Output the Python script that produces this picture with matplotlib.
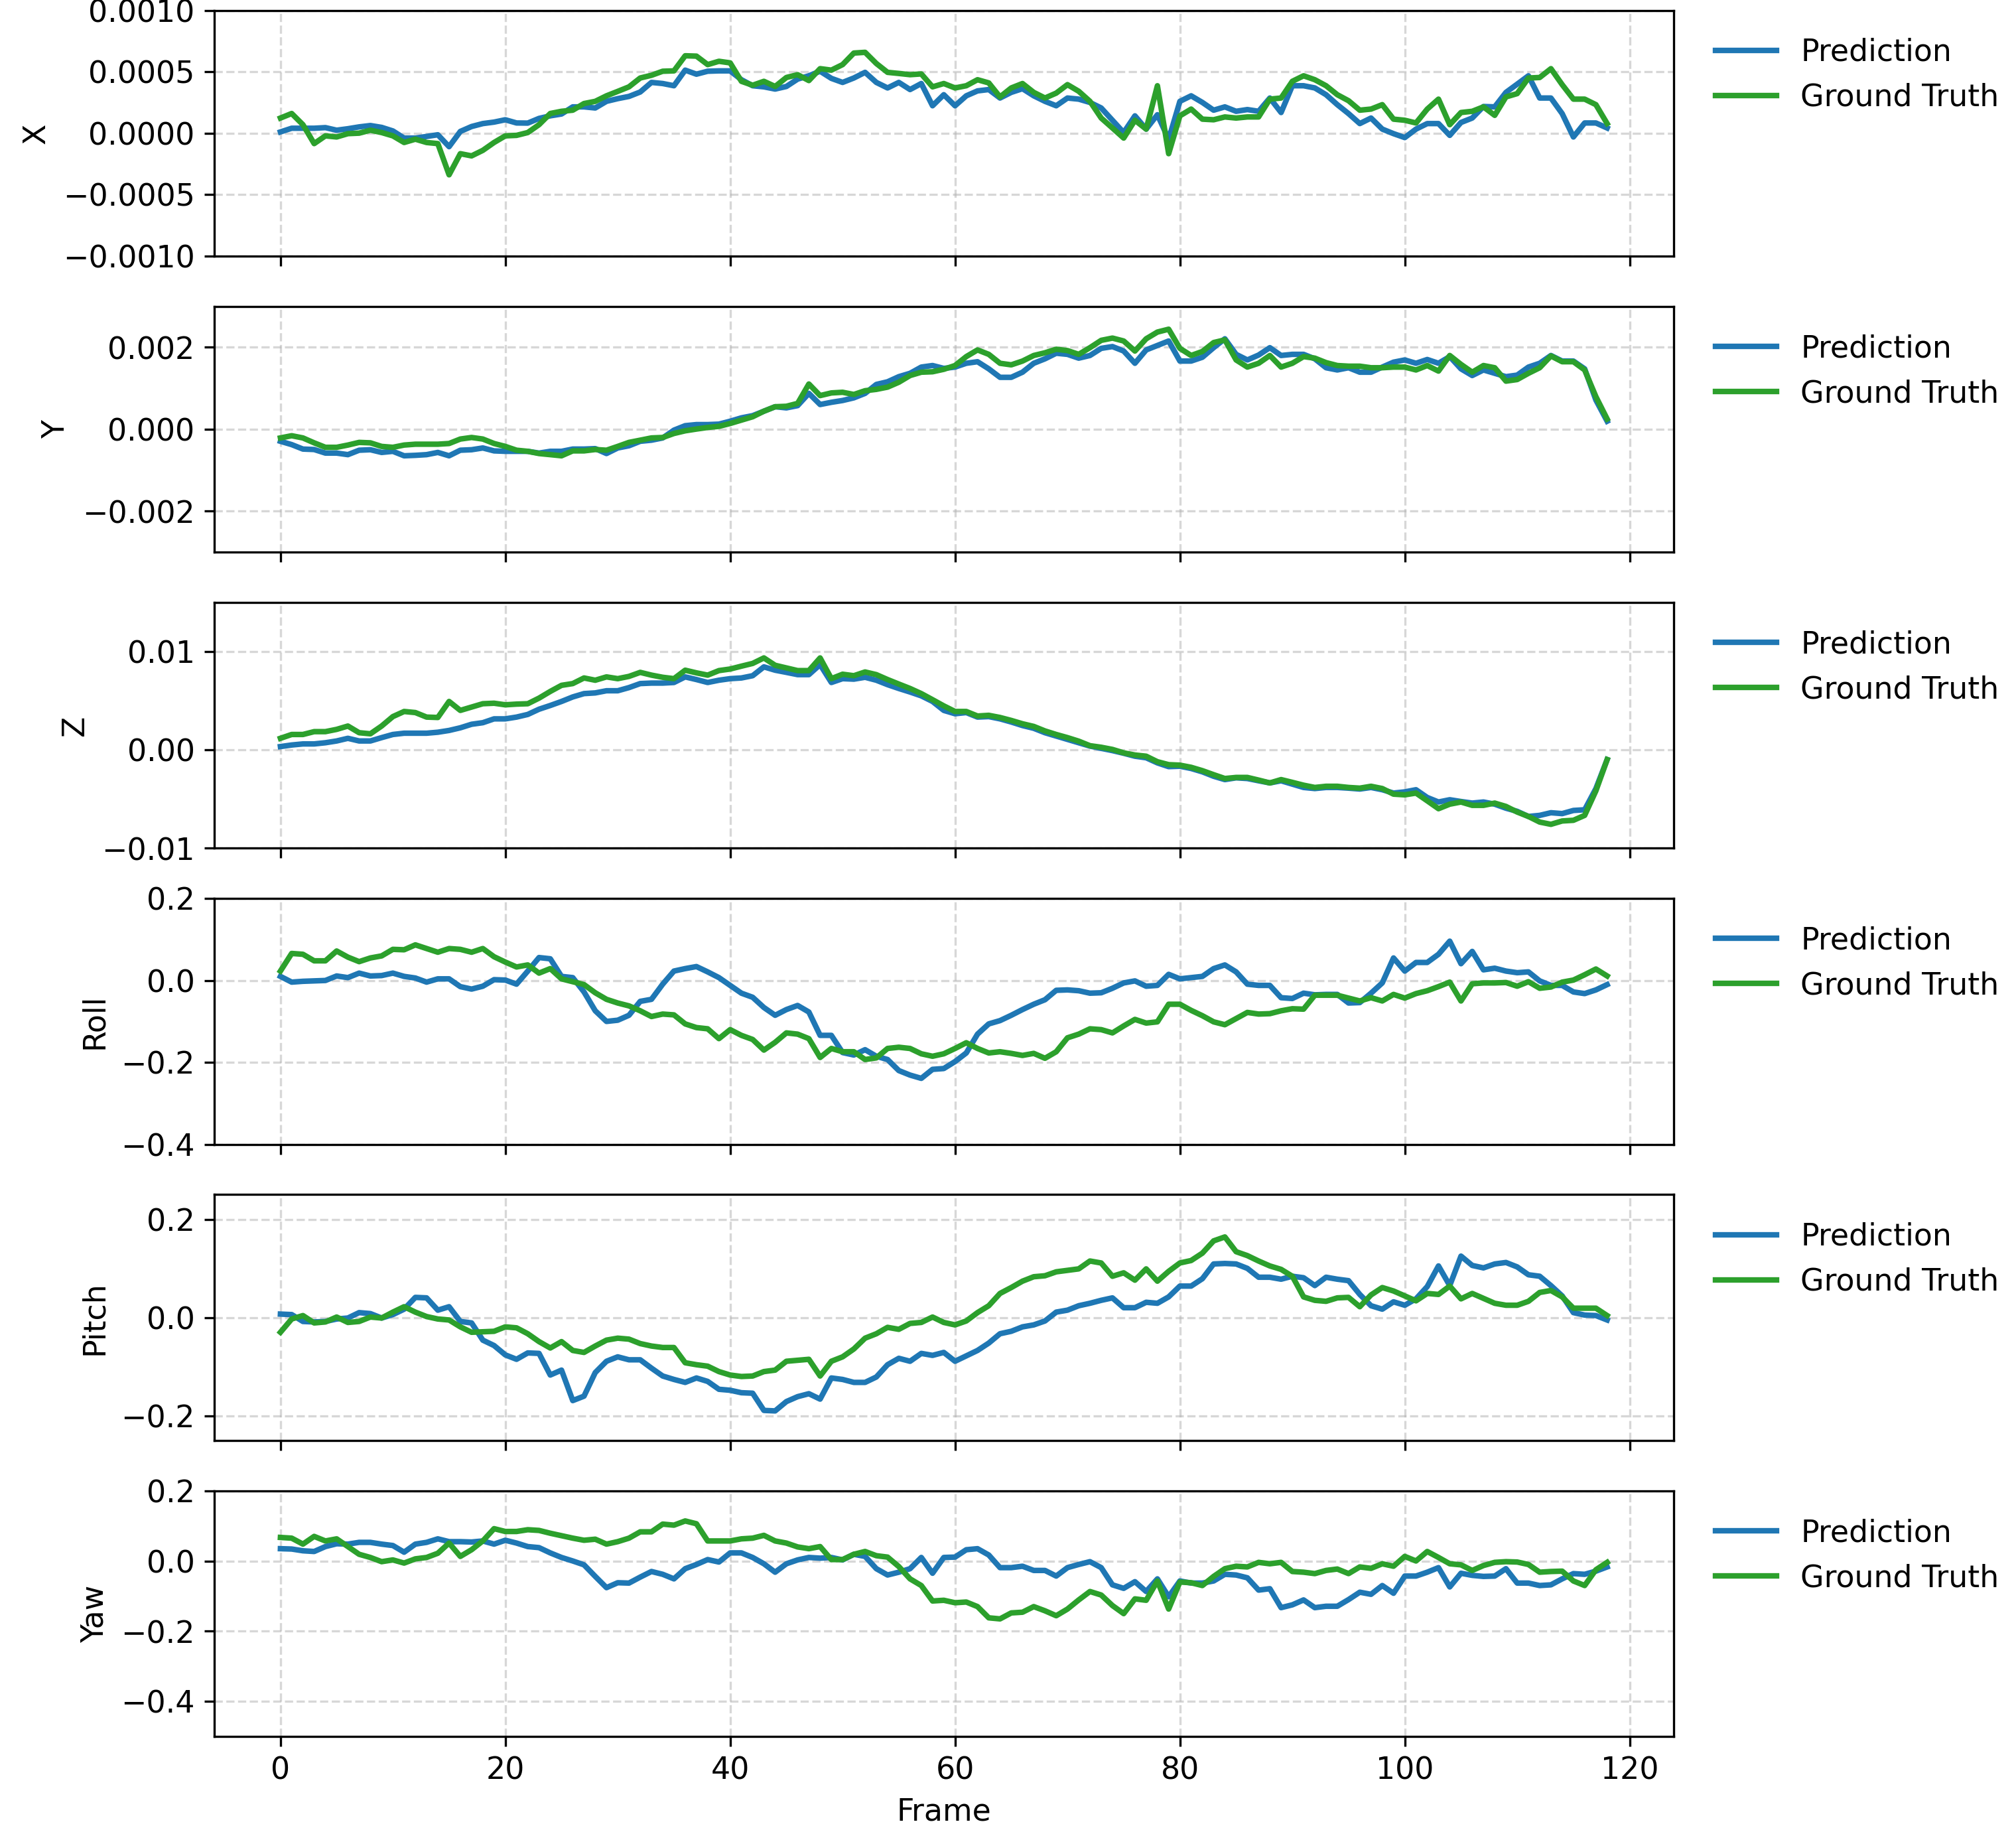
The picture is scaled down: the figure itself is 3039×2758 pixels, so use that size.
import matplotlib
matplotlib.use("Agg")
import matplotlib.pyplot as plt
import numpy as np

plt.rcParams["font.size"] = 11

frames = np.arange(119)

# X and Y in units of 1e-4, Z in units of 1e-3
x_pred = [0.1, 0.4, 0.4, 0.4, 0.45, 0.24, 0.36, 0.51, 0.62, 0.47,
          0.18, -0.4, -0.4, -0.27, -0.13, -1.1, 0.14, 0.54, 0.78, 0.9,
          1.09, 0.83, 0.82, 1.2, 1.41, 1.56, 2.14, 2.14, 2.05, 2.59,
          2.81, 2.99, 3.35, 4.13, 4.04, 3.86, 5.13, 4.8, 5.04, 5.07,
          5.07, 4.35, 3.86, 3.77, 3.59, 3.8, 4.4, 4.67, 5.04, 4.46,
          4.13, 4.49, 4.95, 4.13, 3.68, 4.13, 3.55, 4.04, 2.23, 3.13,
          2.23, 3.04, 3.44, 3.55, 2.86, 3.32, 3.62, 3.04, 2.59, 2.23,
          2.86, 2.77, 2.5, 2.05, 1.05, 0.05, 1.41, 0.33, 1.5, -0.5,
          2.59, 3.04, 2.5, 1.87, 2.14, 1.78, 1.92, 1.78, 2.86, 1.68,
          3.86, 3.86, 3.68, 3.13, 2.32, 1.59, 0.78, 1.23, 0.33, -0.04,
          -0.36, 0.33, 0.78, 0.78, -0.18, 0.87, 1.23, 2.17, 2.14, 3.32,
          3.99, 4.67, 2.86, 2.86, 1.59, -0.31, 0.83, 0.83, 0.42]
x_gt = [1.23, 1.6, 0.69, -0.85, -0.22, -0.31, -0.04, 0.0, 0.24, 0.05,
        -0.22, -0.76, -0.49, -0.76, -0.85, -3.39, -1.67, -1.85, -1.4, -0.76,
        -0.22, -0.18, 0.05, 0.69, 1.6, 1.78, 1.87, 2.41, 2.59, 3.04,
        3.4, 3.77, 4.49, 4.71, 5.04, 5.07, 6.3, 6.27, 5.58, 5.85,
        5.72, 4.22, 3.9, 4.22, 3.8, 4.53, 4.76, 4.28, 5.25, 5.13,
        5.58, 6.52, 6.58, 5.67, 4.95, 4.86, 4.76, 4.82, 3.77, 4.04,
        3.68, 3.86, 4.35, 4.09, 2.95, 3.68, 4.04, 3.32, 2.86, 3.26,
        3.95, 3.41, 2.59, 1.23, 0.42, -0.4, 1.05, 0.33, 3.86, -1.67,
        1.41, 1.96, 1.14, 1.09, 1.32, 1.23, 1.32, 1.32, 2.77, 2.86,
        4.22, 4.67, 4.35, 3.86, 3.13, 2.64, 1.87, 1.96, 2.32, 1.14,
        1.05, 0.83, 1.96, 2.77, 0.69, 1.68, 1.78, 2.14, 1.45, 2.95,
        3.22, 4.49, 4.53, 5.25, 3.95, 2.77, 2.77, 2.32, 0.78]

y_pred = [-2.94, -3.75, -4.84, -4.95, -5.82, -5.82, -6.2, -5.12, -5.0, -5.66,
          -5.39, -6.48, -6.37, -6.2, -5.66, -6.48, -5.12, -5.0, -4.57, -5.28,
          -5.39, -5.39, -5.39, -5.82, -5.39, -5.39, -4.84, -4.84, -4.73, -5.93,
          -4.57, -4.03, -2.94, -2.67, -2.12, -0.22, 0.87, 1.14, 1.14, 1.25,
          1.96, 2.78, 3.32, 4.41, 5.5, 5.22, 5.77, 8.76, 6.04, 6.58,
          7.02, 7.67, 8.76, 10.94, 11.59, 12.84, 13.66, 15.18, 15.56, 14.86,
          15.18, 16.11, 16.49, 14.75, 12.68, 12.68, 13.93, 16.11, 17.2, 18.56,
          18.29, 17.36, 18.01, 19.75, 20.19, 19.1, 16.11, 19.37, 20.46, 21.55,
          16.65, 16.65, 17.58, 19.92, 22.09, 18.29, 16.92, 18.12, 19.92, 18.01,
          18.29, 18.29, 17.2, 15.02, 14.48, 15.02, 13.93, 13.93, 15.18, 16.38,
          16.92, 16.11, 17.03, 16.11, 17.74, 14.75, 13.12, 14.48, 13.66, 12.84,
          13.22, 15.18, 16.11, 18.01, 16.65, 16.65, 14.75, 7.13, 1.96]
y_gt = [-2.12, -1.58, -2.12, -3.32, -4.41, -4.41, -3.86, -3.21, -3.32, -4.19,
        -4.41, -3.86, -3.65, -3.65, -3.65, -3.48, -2.39, -2.01, -2.39, -3.48,
        -4.19, -5.12, -5.39, -5.93, -6.2, -6.48, -5.28, -5.28, -4.95, -5.12,
        -4.19, -3.21, -2.67, -2.12, -2.01, -1.03, -0.38, 0.05, 0.44, 0.71,
        1.41, 2.23, 3.05, 4.41, 5.5, 5.61, 6.31, 11.05, 8.22, 8.87,
        9.03, 8.49, 9.41, 9.74, 10.29, 11.48, 13.12, 13.93, 14.04, 14.64,
        15.56, 17.74, 19.37, 18.29, 16.11, 15.73, 16.65, 18.01, 18.67, 19.54,
        19.21, 18.29, 19.92, 21.71, 22.26, 21.55, 19.1, 22.09, 23.73, 24.43,
        19.75, 18.01, 18.99, 21.17, 21.82, 16.92, 15.18, 16.11, 18.01, 15.18,
        16.11, 17.74, 17.36, 16.27, 15.56, 15.4, 15.4, 15.02, 15.02, 15.18,
        15.18, 14.48, 15.56, 14.2, 18.01, 15.84, 13.93, 15.56, 15.02, 11.75,
        12.14, 13.66, 15.02, 17.9, 16.49, 16.49, 14.48, 7.95, 2.5]

z_pred = [0.34, 0.5, 0.61, 0.61, 0.73, 0.91, 1.18, 0.91, 0.91, 1.25,
          1.57, 1.7, 1.7, 1.7, 1.8, 1.98, 2.25, 2.61, 2.77, 3.16,
          3.16, 3.34, 3.61, 4.14, 4.52, 4.93, 5.39, 5.73, 5.8, 6.02,
          6.02, 6.34, 6.75, 6.8, 6.8, 6.86, 7.43, 7.16, 6.86, 7.09,
          7.25, 7.32, 7.55, 8.45, 8.11, 7.89, 7.66, 7.66, 8.68, 6.86,
          7.25, 7.2, 7.39, 7.09, 6.64, 6.25, 5.89, 5.5, 4.93, 4.02,
          3.68, 3.8, 3.34, 3.39, 3.16, 2.84, 2.48, 2.2, 1.75, 1.41,
          1.07, 0.73, 0.39, 0.16, -0.07, -0.34, -0.64, -0.8, -1.32, -1.7,
          -1.66, -1.89, -2.23, -2.68, -3.02, -2.84, -2.91, -3.14, -3.36, -3.14,
          -3.48, -3.82, -3.93, -3.82, -3.82, -3.89, -3.98, -3.82, -4.05, -4.39,
          -4.27, -4.05, -4.84, -5.3, -5.07, -5.25, -5.41, -5.3, -5.52, -5.93,
          -6.25, -6.77, -6.66, -6.39, -6.48, -6.16, -6.09, -3.93, -0.98]
z_gt = [1.18, 1.57, 1.57, 1.86, 1.86, 2.09, 2.43, 1.75, 1.64, 2.43,
        3.39, 3.91, 3.8, 3.34, 3.3, 4.93, 4.02, 4.36, 4.7, 4.75,
        4.59, 4.66, 4.7, 5.27, 5.95, 6.57, 6.75, 7.32, 7.09, 7.43,
        7.25, 7.48, 7.89, 7.61, 7.39, 7.25, 8.11, 7.84, 7.61, 8.07,
        8.23, 8.52, 8.8, 9.36, 8.61, 8.34, 8.07, 8.07, 9.36, 7.25,
        7.7, 7.55, 7.93, 7.66, 7.16, 6.7, 6.25, 5.73, 5.11, 4.48,
        3.91, 3.91, 3.45, 3.52, 3.3, 3.0, 2.66, 2.39, 1.93, 1.57,
        1.25, 0.89, 0.43, 0.27, 0.05, -0.3, -0.52, -0.64, -1.2, -1.5,
        -1.55, -1.77, -2.11, -2.52, -2.91, -2.8, -2.8, -3.07, -3.36, -3.02,
        -3.3, -3.59, -3.82, -3.7, -3.7, -3.82, -3.89, -3.7, -3.93, -4.5,
        -4.57, -4.39, -5.18, -5.98, -5.52, -5.3, -5.64, -5.64, -5.41, -5.75,
        -6.32, -6.77, -7.34, -7.57, -7.23, -7.16, -6.66, -4.16, -0.98]

roll_pred = [0.01, -0.004, -0.002, -0.001, 0.0, 0.011, 0.007, 0.018, 0.011, 0.012,
             0.018, 0.01, 0.006, -0.004, 0.004, 0.004, -0.015, -0.021, -0.014, 0.002,
             0.001, -0.009, 0.023, 0.056, 0.053, 0.01, 0.007, -0.028, -0.074, -0.1,
             -0.097, -0.085, -0.051, -0.046, -0.009, 0.023, 0.029, 0.034, 0.021, 0.007,
             -0.012, -0.031, -0.041, -0.066, -0.085, -0.071, -0.061, -0.077, -0.134, -0.134,
             -0.176, -0.182, -0.169, -0.185, -0.193, -0.22, -0.231, -0.239, -0.217, -0.215,
             -0.198, -0.177, -0.131, -0.106, -0.098, -0.085, -0.071, -0.058, -0.047, -0.024,
             -0.023, -0.025, -0.031, -0.03, -0.019, -0.006, -0.001, -0.014, -0.012, 0.015,
             0.004, 0.007, 0.01, 0.029, 0.038, 0.021, -0.009, -0.012, -0.012, -0.042,
             -0.044, -0.031, -0.035, -0.034, -0.034, -0.055, -0.054, -0.031, -0.006, 0.055,
             0.023, 0.044, 0.044, 0.064, 0.096, 0.041, 0.071, 0.026, 0.03, 0.023,
             0.019, 0.021, -0.001, -0.012, -0.012, -0.028, -0.032, -0.023, -0.01]
roll_gt = [0.023, 0.066, 0.064, 0.048, 0.048, 0.072, 0.057, 0.046, 0.055, 0.06,
           0.076, 0.075, 0.087, 0.078, 0.069, 0.078, 0.076, 0.069, 0.078, 0.058,
           0.045, 0.033, 0.038, 0.018, 0.029, 0.004, -0.003, -0.01, -0.03, -0.046,
           -0.055, -0.062, -0.074, -0.088, -0.082, -0.084, -0.106, -0.115, -0.118, -0.142,
           -0.12, -0.134, -0.144, -0.17, -0.151, -0.128, -0.131, -0.142, -0.188, -0.166,
           -0.174, -0.174, -0.193, -0.189, -0.166, -0.163, -0.166, -0.179, -0.185, -0.179,
           -0.166, -0.152, -0.166, -0.177, -0.174, -0.178, -0.183, -0.178, -0.19, -0.174,
           -0.14, -0.131, -0.118, -0.12, -0.128, -0.111, -0.095, -0.104, -0.101, -0.058,
           -0.058, -0.073, -0.086, -0.101, -0.108, -0.093, -0.078, -0.082, -0.081, -0.074,
           -0.069, -0.07, -0.036, -0.036, -0.036, -0.043, -0.05, -0.042, -0.05, -0.034,
           -0.043, -0.032, -0.025, -0.015, -0.004, -0.05, -0.008, -0.006, -0.006, -0.005,
           -0.014, -0.003, -0.019, -0.016, -0.004, 0.001, 0.014, 0.028, 0.011]

pitch_pred = [0.007, 0.006, -0.008, -0.009, -0.008, -0.003, -0.001, 0.01, 0.008, -0.001,
              0.006, 0.017, 0.041, 0.04, 0.015, 0.022, -0.008, -0.011, -0.046, -0.057,
              -0.076, -0.085, -0.072, -0.073, -0.117, -0.107, -0.169, -0.16, -0.112, -0.089,
              -0.08, -0.086, -0.086, -0.103, -0.119, -0.126, -0.132, -0.123, -0.13, -0.146,
              -0.148, -0.153, -0.154, -0.189, -0.19, -0.171, -0.161, -0.155, -0.166, -0.123,
              -0.126, -0.132, -0.132, -0.121, -0.096, -0.083, -0.089, -0.073, -0.077, -0.071,
              -0.089, -0.078, -0.067, -0.052, -0.033, -0.028, -0.019, -0.015, -0.007, 0.011,
              0.015, 0.024, 0.029, 0.035, 0.04, 0.02, 0.02, 0.031, 0.029, 0.042,
              0.064, 0.064, 0.079, 0.109, 0.11, 0.109, 0.1, 0.082, 0.082, 0.078,
              0.084, 0.081, 0.065, 0.082, 0.078, 0.075, 0.047, 0.024, 0.017, 0.032,
              0.025, 0.038, 0.063, 0.105, 0.065, 0.125, 0.106, 0.101, 0.109, 0.112,
              0.103, 0.087, 0.084, 0.065, 0.044, 0.01, 0.005, 0.004, -0.005]
pitch_gt = [-0.03, -0.003, 0.004, -0.011, -0.009, 0.001, -0.01, -0.008, 0.001, -0.001,
            0.011, 0.022, 0.011, 0.002, -0.003, -0.005, -0.019, -0.03, -0.029, -0.028,
            -0.019, -0.021, -0.033, -0.049, -0.062, -0.049, -0.067, -0.071, -0.058, -0.046,
            -0.042, -0.044, -0.053, -0.058, -0.061, -0.061, -0.092, -0.096, -0.099, -0.11,
            -0.117, -0.12, -0.119, -0.11, -0.107, -0.089, -0.087, -0.085, -0.119, -0.089,
            -0.08, -0.064, -0.042, -0.033, -0.02, -0.024, -0.012, -0.01, 0.001, -0.01,
            -0.015, -0.007, 0.01, 0.024, 0.049, 0.061, 0.074, 0.083, 0.085, 0.093,
            0.096, 0.099, 0.115, 0.111, 0.084, 0.091, 0.076, 0.099, 0.074, 0.094,
            0.111, 0.116, 0.131, 0.156, 0.164, 0.134, 0.126, 0.115, 0.105, 0.098,
            0.084, 0.042, 0.035, 0.033, 0.04, 0.041, 0.022, 0.046, 0.061, 0.054,
            0.044, 0.034, 0.049, 0.047, 0.064, 0.038, 0.049, 0.039, 0.029, 0.025,
            0.025, 0.033, 0.051, 0.055, 0.042, 0.019, 0.019, 0.019, 0.004]

yaw_pred = [0.035, 0.034, 0.029, 0.027, 0.041, 0.049, 0.048, 0.053, 0.053, 0.048,
            0.044, 0.025, 0.048, 0.053, 0.063, 0.055, 0.055, 0.054, 0.057, 0.048,
            0.059, 0.051, 0.041, 0.038, 0.023, 0.01, 0.0, -0.011, -0.044, -0.076,
            -0.062, -0.063, -0.046, -0.03, -0.038, -0.051, -0.022, -0.01, 0.004, -0.003,
            0.023, 0.023, 0.01, -0.008, -0.032, -0.008, 0.003, 0.01, 0.008, 0.01,
            0.003, 0.019, 0.013, -0.022, -0.04, -0.032, -0.022, 0.01, -0.035, 0.01,
            0.011, 0.032, 0.035, 0.017, -0.019, -0.019, -0.015, -0.027, -0.027, -0.043,
            -0.019, -0.01, -0.002, -0.019, -0.068, -0.078, -0.059, -0.087, -0.051, -0.102,
            -0.057, -0.063, -0.063, -0.057, -0.038, -0.04, -0.048, -0.083, -0.079, -0.133,
            -0.125, -0.111, -0.133, -0.129, -0.129, -0.11, -0.089, -0.095, -0.07, -0.092,
            -0.043, -0.043, -0.032, -0.019, -0.074, -0.035, -0.041, -0.044, -0.043, -0.022,
            -0.063, -0.063, -0.07, -0.068, -0.051, -0.036, -0.038, -0.029, -0.017]
yaw_gt = [0.067, 0.065, 0.048, 0.07, 0.057, 0.063, 0.041, 0.019, 0.01, -0.002,
          0.003, -0.006, 0.006, 0.01, 0.022, 0.051, 0.013, 0.032, 0.057, 0.092,
          0.084, 0.084, 0.089, 0.087, 0.079, 0.072, 0.065, 0.059, 0.062, 0.048,
          0.055, 0.065, 0.083, 0.083, 0.105, 0.102, 0.114, 0.106, 0.057, 0.057,
          0.057, 0.063, 0.065, 0.073, 0.057, 0.051, 0.04, 0.035, 0.041, 0.004,
          0.004, 0.019, 0.027, 0.015, 0.011, -0.016, -0.051, -0.07, -0.114, -0.112,
          -0.119, -0.117, -0.13, -0.162, -0.165, -0.148, -0.146, -0.13, -0.142, -0.156,
          -0.137, -0.111, -0.087, -0.097, -0.127, -0.15, -0.108, -0.112, -0.057, -0.137,
          -0.06, -0.062, -0.07, -0.044, -0.022, -0.015, -0.017, -0.004, -0.008, -0.004,
          -0.03, -0.032, -0.036, -0.027, -0.023, -0.036, -0.017, -0.021, -0.008, -0.015,
          0.013, 0.0, 0.027, 0.01, -0.008, -0.011, -0.027, -0.013, -0.004, -0.002,
          -0.003, -0.01, -0.032, -0.03, -0.029, -0.057, -0.07, -0.025, -0.004]

labels = ["X", "Y", "Z", "Roll", "Pitch", "Yaw"]
preds = [np.array(x_pred) * 1e-4, np.array(y_pred) * 1e-4, np.array(z_pred) * 1e-3,
         roll_pred, pitch_pred, yaw_pred]
gts = [np.array(x_gt) * 1e-4, np.array(y_gt) * 1e-4, np.array(z_gt) * 1e-3,
       roll_gt, pitch_gt, yaw_gt]
ylims = [(-0.001, 0.001), (-0.003, 0.003), (-0.01, 0.015),
         (-0.4, 0.2), (-0.25, 0.25), (-0.5, 0.2)]
yticks = [[-0.001, -0.0005, 0, 0.0005, 0.001], [-0.002, 0, 0.002], [-0.01, 0, 0.01],
          [-0.4, -0.2, 0, 0.2], [-0.2, 0, 0.2], [-0.4, -0.2, 0, 0.2]]

fig, axes = plt.subplots(6, 1, figsize=(10.13, 9.194), sharex=True)
fig.subplots_adjust(left=0.1062, right=0.8301, top=0.9943, bottom=0.0511, hspace=0.205)

for i, ax in enumerate(axes):
    ax.plot(frames, preds[i], color="tab:blue", lw=2, label="Prediction")
    ax.plot(frames, gts[i], color="tab:green", lw=2, label="Ground Truth")
    ax.set_ylabel(labels[i])
    ax.set_ylim(*ylims[i])
    ax.set_yticks(yticks[i])
    ax.grid(True, linestyle="--", alpha=0.5)
    ax.legend(loc="upper left", bbox_to_anchor=(1.01, 1), frameon=False)

axes[-1].set_xlabel("Frame")

plt.savefig("out.png", dpi=300)
